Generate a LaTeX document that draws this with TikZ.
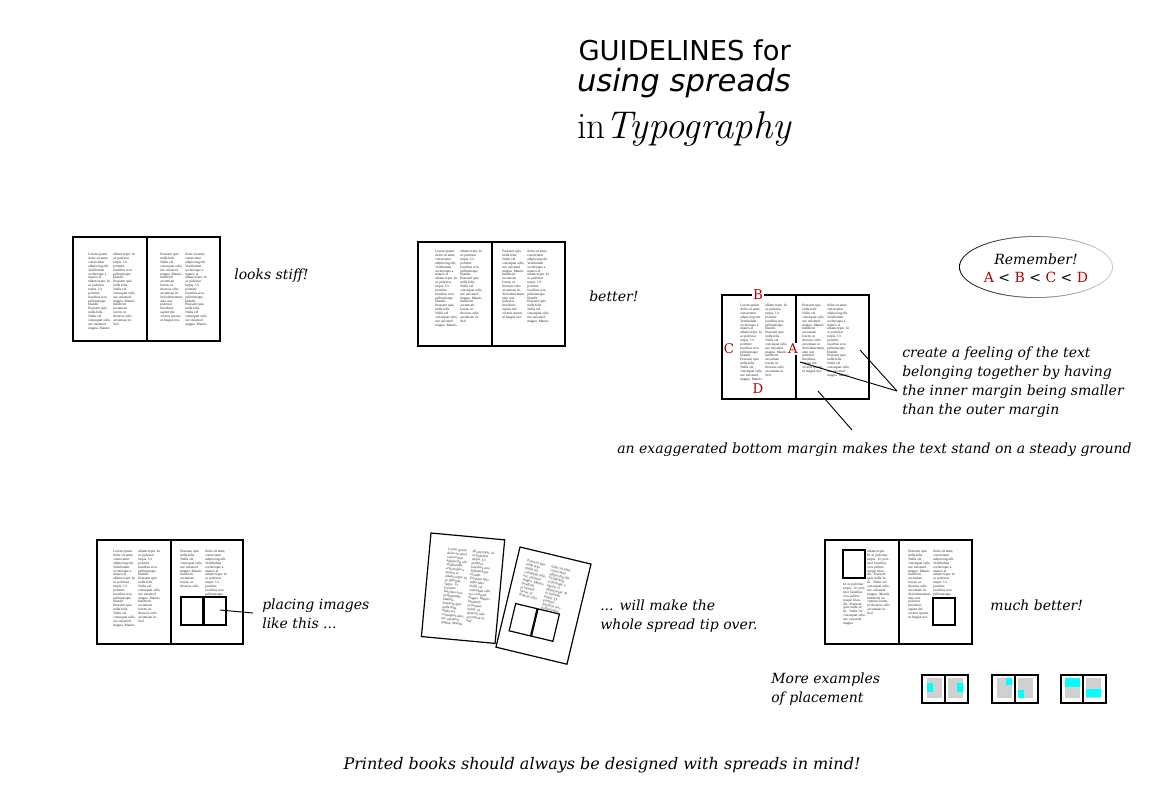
\documentclass[tikz,border=0pt]{standalone}
\usepackage{fontspec}
\setmainfont{DejaVu Serif}
\newfontfamily\titlesans{DejaVu Sans}
\newfontfamily\tinyserif{Liberation Serif}
\newfontfamily\lmr{Latin Modern Roman}
\definecolor{markred}{RGB}{176,0,0}
\definecolor{imggray}{RGB}{208,208,208}
\definecolor{imgcyan}{RGB}{0,255,255}
\newcommand\txA{Lorem ipsum dolor sit amet, consectetur adipiscing elit. Vestibulum scelerisque a mauris et ullamcorper. In ac pulvinar turpis. Ut porttitor faucibus eros pellentesque blandit. Praesent quis nulla felis. Nulla vel consequat odio, nec euismod magna. Mauris}
\newcommand\txB{ullamcorper. In ac pulvinar turpis. Ut porttitor faucibus eros pellentesque blandit. Praesent quis nulla felis. Nulla vel consequat odio, nec euismod magna. Mauris hendrerit accumsan lorem, ut rhoncus odio accumsan in. Sed}
\newcommand\txC{Praesent quis nulla felis. Nulla vel consequat odio, nec euismod magna. Mauris hendrerit accumsan lorem, ut rhoncus odio accumsan in. Sed elementum, ante non pulvinar tincidunt, sapien dui viverra ipsum, ut feugiat nisi}
\newcommand\txD{dolor sit amet, consectetur adipiscing elit. Vestibulum scelerisque a mauris et ullamcorper. In ac pulvinar turpis. Ut porttitor faucibus eros pellentesque blandit. Praesent quis nulla felis. Nulla vel consequat odio, nec euismod magna. Mauris}
\newcommand\txCs{Praesent quis nulla felis. Nulla vel consequat odio, nec euismod magna. Mauris hendrerit accumsan lorem, ut rhoncus odio}
\newcommand\txDs{dolor sit amet, consectetur adipiscing elit. Vestibulum scelerisque a mauris et ullamcorper. In ac pulvinar turpis. Ut porttitor faucibus eros pellentesque}
\newcommand\txAs{In ac pulvinar turpis. Ut porttitor faucibus eros pellentesque blandit. Praesent quis nulla felis. Nulla vel consequat odio, nec euismod magna.}
\newcommand\twocol[2]{\parbox[t]{17pt}{\raggedright #1}\hspace{1.75pt}\parbox[t]{17pt}{\raggedright #2}}
\begin{document}
\begin{tikzpicture}[x=0.75pt,y=-0.75pt,
  pagerect/.style={draw, line width=0.9pt},
  spineline/.style={draw, line width=1.6pt},
  imgbox/.style={draw, line width=0.9pt},
  smallbox/.style={draw, line width=0.8pt},
  cols/.style={anchor=north west, inner sep=0pt,
    font=\tinyserif\fontsize{2.65}{2.9}\selectfont, text=black!85},
  col/.style={cols, text width=17pt, align=left},
  note/.style={anchor=west, inner sep=0pt, text height=7.5pt, text depth=2pt,
    font=\itshape\fontsize{10.5}{12}\selectfont},
  marklabel/.style={inner sep=0.5pt, text=markred, fill=white, font=\fontsize{10}{12}\selectfont},
  pointer/.style={draw, line width=0.7pt}
]
\useasboundingbox[fill=white] (0,0) rectangle (1152,800);

% ---------- title ----------
\node[anchor=east, inner sep=0pt, font=\titlesans\fontsize{20.5}{24}\selectfont] (title1) at (791,50) {GUIDELINES for};
\node[anchor=east, inner sep=0pt, font=\titlesans\itshape\fontsize{23}{24}\selectfont] (title2) at (791,83) {using spreads};
\node[anchor=base east, inner sep=0pt] (title3) at (791,138)
  {{\lmr\fontsize{28}{30}\selectfont in}{\lmr\itshape\fontsize{29}{32}\selectfont Typography}};

% ---------- spread 1: looks stiff ----------
\draw[pagerect] (73,237) rectangle (220,341);
\draw[spineline] (147,237) -- (147,341);
\node[cols] (s1l) at (88,253) {\twocol{\txA}{\txB}};
\node[cols] (s1r) at (160,253) {\twocol{\txC}{\txD}};
\node[note] (stiff) at (234,276) {looks stiff!};

% ---------- spread 2: better ----------
\draw[pagerect] (418,242) rectangle (565,346);
\draw[spineline] (492,242) -- (492,346);
\node[cols] (s2l) at (435,250) {\twocol{\txA}{\txB}};
\node[cols] (s2r) at (502,250) {\twocol{\txC}{\txD}};
\node[note] (better) at (589,298) {better!};

% ---------- spread 3: margins ----------
\draw[pagerect] (722,295) rectangle (869,399);
\draw[spineline] (796,295) -- (796,399);
\node[cols] (s3l) at (740,304) {\twocol{\txA}{\txB}};
\node[cols] (s3r) at (802,304) {\twocol{\txC}{\txD}};
\node[marklabel] (mB) at (758,295) {B};
\node[marklabel] (mC) at (729,349) {C};
\node[marklabel] (mA) at (793,349) {A};
\node[marklabel, fill=none] (mD) at (758,389) {D};

\coordinate (p3out) at (860,350);
\coordinate (p3in) at (800,362);
\coordinate (p3bot) at (818,391);
\node[note] (feel1) at (902,354) {create a feeling of the text};
\node[note] (feel2) at (902,373) {belonging together by having};
\node[note] (feel3) at (902,392) {the inner margin being smaller};
\node[note] (feel4) at (902,411) {than the outer margin};
\node[note] (exag) at (617,450) {an exaggerated bottom margin makes the text stand on a steady ground};
\coordinate (feelpt) at (897,391);
\coordinate (exagpt) at (852,430);
\draw[pointer] (p3out) -- (feelpt);
\draw[pointer] (p3in) -- (feelpt);
\draw[pointer] (p3bot) -- (exagpt);

% ---------- remember ellipse ----------
\shade[left color=black, right color=black!20, middle color=black!50] (1036,267) ellipse [x radius=77, y radius=31];
\fill[white] (1036,267) ellipse [x radius=76, y radius=30];
\node[inner sep=0pt, font=\itshape\fontsize{10.5}{12}\selectfont] (remember) at (1036,259) {Remember!};
\node[inner sep=0pt, font=\fontsize{10.5}{12}\selectfont] (order) at (1036,277)
  {\textcolor{markred}{A} < \textcolor{markred}{B} < \textcolor{markred}{C} < \textcolor{markred}{D}};

% ---------- spread 4: placing images ----------
\draw[pagerect] (97,540) rectangle (243,644);
\draw[spineline] (171,540) -- (171,644);
\node[cols] (s4l) at (113,550) {\twocol{\txA}{\txB}};
\node[cols] (s4r) at (180,550) {\twocol{\txCs}{\txDs}};
\draw[imgbox] (181,597) rectangle (203,625);
\draw[imgbox] (204,597) rectangle (226,625);
\coordinate (img4) at (220,610);
\node[note] (place1) at (262,606) {placing images};
\node[note] (place2) at (262,625) {like this ...};
\coordinate (place1pt) at (253,613);
\draw[pointer] (img4) -- (place1pt);

% ---------- spread 5: tipped over ----------
\begin{scope}[shift={(431,533)}, rotate=-5.3, transform shape]
  \draw[pagerect, fill=white] (0,0) rectangle (74,104);
  \node[cols] (s5l) at (18,13) {\twocol{\txA}{\txB}};
\end{scope}
\begin{scope}[shift={(520,547)}, rotate=-13.5, transform shape]
  \draw[pagerect, fill=white] (0,0) rectangle (73,103);
  \node[cols] (s5r) at (10,10) {\twocol{\txCs}{\txDs}};
  \draw[imgbox] (9,56) rectangle (31,84);
  \draw[imgbox] (32,56) rectangle (54,84);
\end{scope}
\node[note] (tip1) at (600,607) {... will make the};
\node[note] (tip2) at (600,626) {whole spread tip over.};

% ---------- spread 6: much better ----------
\draw[pagerect] (825,540) rectangle (972,644);
\draw[spineline] (899,540) -- (899,644);
\draw[imgbox] (843,550) rectangle (865,578);
\node[col] (s6a) at (843,583) {\txAs};
\node[col] (s6b) at (867,550) {\txB};
\node[cols] (s6r) at (908,550) {\twocol{\txC}{\txDs}};
\draw[imgbox] (933,598) rectangle (955,625);
\node[note] (much) at (990,607) {much better!};

% ---------- more examples ----------
\node[note] (more1) at (771,680) {More examples};
\node[note] (more2) at (771,699) {of placement};
% example a
\fill[imggray] (927,678) rectangle (942,698);
\fill[imggray] (948,678) rectangle (963,698);
\fill[imgcyan] (927,683) rectangle (933,692);
\fill[imgcyan] (957,683) rectangle (963,692);
\draw[smallbox] (922,675) rectangle (968,703);
\draw[smallbox] (945,675) -- (945,703);
% example b
\fill[imggray] (997,678) rectangle (1012,698);
\fill[imggray] (1018,678) rectangle (1033,698);
\fill[imgcyan] (1006,678) rectangle (1012,685);
\fill[imgcyan] (1018,690) rectangle (1024,698);
\draw[smallbox] (992,675) rectangle (1038,703);
\draw[smallbox] (1015,675) -- (1015,703);
% example c
\fill[imggray] (1065,678) rectangle (1080,698);
\fill[imggray] (1086,678) rectangle (1101,698);
\fill[imgcyan] (1065,678) rectangle (1080,687);
\fill[imgcyan] (1086,689) rectangle (1101,697);
\draw[smallbox] (1061,675) rectangle (1106,703);
\draw[smallbox] (1083,675) -- (1083,703);

% ---------- caption ----------
\node[inner sep=0pt, font=\itshape\fontsize{12}{14}\selectfont] (caption) at (602,765)
  {Printed books should always be designed with spreads in mind!};
\end{tikzpicture}
\end{document}
